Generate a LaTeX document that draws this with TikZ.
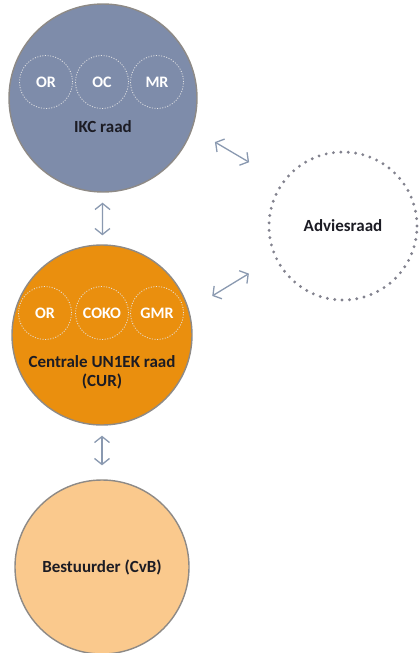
\documentclass[tikz,border=0pt]{standalone}
\usepackage{fontspec}
\setmainfont{Carlito}
\usepackage{tikz}
\usetikzlibrary{arrows.meta}

\definecolor{ikcblue}{RGB}{126,140,170}
\definecolor{curorange}{RGB}{234,143,14}
\definecolor{cvborange}{RGB}{250,201,141}
\definecolor{rim}{RGB}{142,138,134}
\definecolor{arrowgray}{RGB}{138,153,176}
\definecolor{dotgray}{RGB}{130,130,142}
\definecolor{ink}{RGB}{28,28,36}

\begin{document}
\begin{tikzpicture}[
  x=1pt, y=-1pt,
  council/.style = {circle, draw=rim, line width=1.4pt, inner sep=0pt},
  member/.style  = {circle, draw=white!90!black, line width=0.8pt,
                    dash pattern=on 1pt off 1.6pt, minimum size=53pt,
                    inner sep=0pt, text=white, font=\bfseries\fontsize{16}{18}\selectfont},
  title/.style   = {align=center, text=ink, font=\bfseries\fontsize{17}{19}\selectfont},
  arrow/.style   = {{Straight Barb[length=6pt,width=15pt]}-{Straight Barb[length=6pt,width=15pt]},
                    line width=1.3pt, draw=arrowgray}
]
  \useasboundingbox (0,0) rectangle (418,653);

  % main councils
  \node[council, fill=ikcblue,   minimum size=188pt] (ikc) at (103,98)  {};
  \node[council, fill=curorange, minimum size=180pt] (cur) at (102,335) {};
  \node[council, fill=cvborange, minimum size=174pt, title] (cvb) at (102,567) {Bestuurder (CvB)};
  \node[circle, draw=dotgray, line width=3.2pt, line cap=round,
        dash pattern=on 0pt off 7.4pt, minimum size=148pt, title] (advies) at (343,226) {Adviesraad};

  % members of the IKC raad
  \node[member] (ikcor) at (46,82)  {OR};
  \node[member] (ikcoc) at (102,82) {OC};
  \node[member] (ikcmr) at (157,82) {MR};
  \node[title]  (ikclabel) at (103,127) {IKC raad};

  % members of the centrale raad
  \node[member] (curor)   at (45,313)  {OR};
  \node[member] (curcoko) at (102,313) {COKO};
  \node[member] (curgmr)  at (157,313) {GMR};
  \node[title]  (curlabel) at (102,372) {Centrale UN1EK raad\\(CUR)};

  \draw[arrow, shorten <=10pt, shorten >=9pt]  (ikc) -- (cur);
  \draw[arrow, shorten <=10pt, shorten >=14pt] (cur) -- (cvb);
  \draw[arrow, shorten <=26pt, shorten >=38pt] (ikc.-19) -- (advies.144);
  \draw[arrow, shorten <=27pt, shorten >=30pt] (cur.16.5) -- (advies.205);
\end{tikzpicture}
\end{document}
